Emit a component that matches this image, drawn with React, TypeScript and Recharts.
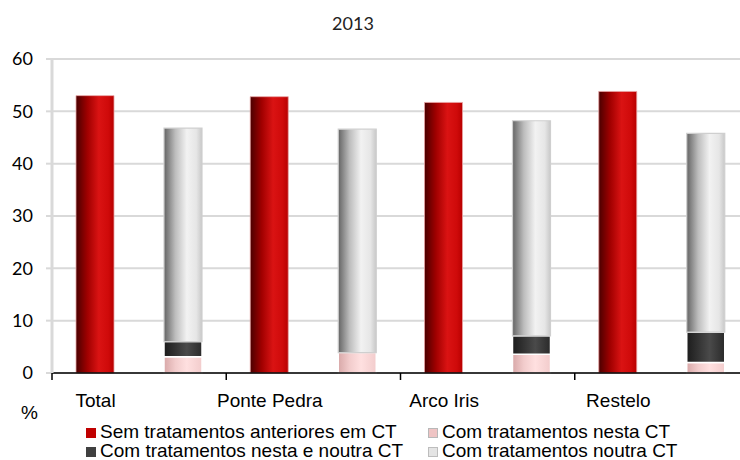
import { Bar, BarChart, CartesianGrid, XAxis, YAxis } from "recharts"

const CATEGORIES = ["Total", "Ponte Pedra", "Arco Iris", "Restelo"]
const SEM_TRATAMENTOS = [53, 52.8, 51.7, 53.8]
const NESTA_CT = [3.1, 3.9, 3.6, 2.0]
const NESTA_E_NOUTRA = [2.9, 0, 3.5, 5.8]
const NOUTRA_CT = [40.8, 42.7, 41.1, 38.0]
const Y_TICKS = [0, 10, 20, 30, 40, 50, 60]

const LEGEND = [
  { label: "Sem tratamentos anteriores em CT", color: "#c00000", border: "#c00000" },
  { label: "Com tratamentos nesta CT", color: "#efc4c4", border: "#b8b8b8" },
  { label: "Com tratamentos nesta e noutra CT", color: "#404040", border: "#404040" },
  { label: "Com tratamentos noutra CT", color: "#e4e4e4", border: "#bdbdbd" },
]

const data = CATEGORIES.map((name, i) => ({
  name,
  sem: SEM_TRATAMENTOS[i],
  nesta: NESTA_CT[i],
  ambas: NESTA_E_NOUTRA[i],
  noutra: NOUTRA_CT[i],
}))

const CHART_W = 760
const CHART_H = 460
const MARGIN = { top: 59, right: 11, bottom: 47, left: 0 }
const Y_AXIS_W = 52
const BAND = (CHART_W - MARGIN.left - MARGIN.right - Y_AXIS_W) / CATEGORIES.length

const TEXT_FONT = "'Liberation Sans', Arial, sans-serif"
const NUM_FONT = "Lato, 'Liberation Sans', sans-serif"

function CategoryTick({ x, y, payload }: any) {
  const left = x - BAND / 2
  return (
    <g>
      <line x1={left} x2={left} y1={y} y2={y + 7} stroke="#000" strokeWidth={1.5} />
      <text
        x={x - BAND / 4}
        y={y + 34}
        textAnchor="middle"
        fill="#000"
        fontSize={19}
        fontFamily={TEXT_FONT}
      >
        {payload.value}
      </text>
    </g>
  )
}

export default function App() {
  return (
    <div
      style={{
        position: "absolute",
        left: 0,
        top: 0,
        width: 740,
        height: 460,
        overflow: "hidden",
        background: "#fff",
      }}
    >
      <div
        style={{
          position: "absolute",
          left: 0,
          width: 706,
          top: 13,
          textAlign: "center",
          fontFamily: NUM_FONT,
          fontSize: 18,
          color: "#222",
          lineHeight: "20px",
        }}
      >
        2013
      </div>
      <BarChart
        width={CHART_W}
        height={CHART_H}
        data={data}
        margin={MARGIN}
        barSize={38}
        barGap={50}
      >
        <defs>
          <linearGradient id="gRed" x1="0" y1="0" x2="1" y2="0">
            <stop offset="0%" stopColor="#4a0000" />
            <stop offset="30%" stopColor="#a00000" />
            <stop offset="60%" stopColor="#da1313" />
            <stop offset="85%" stopColor="#cf0a0a" />
            <stop offset="100%" stopColor="#b80000" />
          </linearGradient>
          <linearGradient id="gGrey" x1="0" y1="0" x2="1" y2="0">
            <stop offset="0%" stopColor="#646464" />
            <stop offset="30%" stopColor="#bdbdbd" />
            <stop offset="60%" stopColor="#f2f2f2" />
            <stop offset="85%" stopColor="#e6e6e6" />
            <stop offset="100%" stopColor="#c8c8c8" />
          </linearGradient>
          <linearGradient id="gDark" x1="0" y1="0" x2="1" y2="0">
            <stop offset="0%" stopColor="#1c1c1c" />
            <stop offset="60%" stopColor="#4a4a4a" />
            <stop offset="100%" stopColor="#2a2a2a" />
          </linearGradient>
          <linearGradient id="gPink" x1="0" y1="0" x2="1" y2="0">
            <stop offset="0%" stopColor="#d8a8a8" />
            <stop offset="30%" stopColor="#f2cccc" />
            <stop offset="60%" stopColor="#ffe0e0" />
            <stop offset="100%" stopColor="#f2cccc" />
          </linearGradient>
        </defs>
        <CartesianGrid vertical={false} stroke="#d9d9d9" strokeWidth={2} />
        <XAxis
          dataKey="name"
          interval={0}
          height={40}
          tickLine={false}
          tickSize={0}
          tickMargin={0}
          axisLine={{ stroke: "#000", strokeWidth: 1.5 }}
          tick={<CategoryTick />}
        />
        <YAxis
          width={Y_AXIS_W}
          domain={[0, 60]}
          ticks={Y_TICKS}
          interval={0}
          tickSize={6}
          tickMargin={13}
          axisLine={{ stroke: "#d9d9d9", strokeWidth: 3 }}
          tickLine={{ stroke: "#d9d9d9", strokeWidth: 2 }}
          tick={{ fill: "#000", fontSize: 18, fontFamily: NUM_FONT }}
        />
        <Bar
          dataKey="sem"
          stackId="sem"
          fill="url(#gRed)"
          stroke="#e9a3a3"
          strokeWidth={0.8}
          isAnimationActive={false}
        />
        <Bar
          dataKey="nesta"
          stackId="com"
          fill="url(#gPink)"
          stroke="#ffffff"
          strokeWidth={1.5}
          isAnimationActive={false}
        />
        <Bar
          dataKey="ambas"
          stackId="com"
          fill="url(#gDark)"
          stroke="#ffffff"
          strokeWidth={1.5}
          isAnimationActive={false}
        />
        <Bar
          dataKey="noutra"
          stackId="com"
          fill="url(#gGrey)"
          stroke="#cfcfcf"
          strokeWidth={1.2}
          isAnimationActive={false}
        />
      </BarChart>
      <div
        style={{
          position: "absolute",
          left: 21,
          top: 403,
          fontFamily: TEXT_FONT,
          fontSize: 19,
          lineHeight: "20px",
          color: "#000",
        }}
      >
        %
      </div>
      {LEGEND.map((item, i) => {
        const col = i % 2
        const row = Math.floor(i / 2)
        const left = col === 0 ? 86 : 428
        const top = 422 + row * 19
        return (
          <div
            key={item.label}
            style={{
              position: "absolute",
              left,
              top,
              display: "flex",
              alignItems: "center",
              fontFamily: TEXT_FONT,
              fontSize: 19,
              lineHeight: "19px",
              color: "#000",
              whiteSpace: "nowrap",
            }}
          >
            <span
              style={{
                display: "inline-block",
                width: 8,
                height: 8,
                background: item.color,
                border: `1px solid ${item.border}`,
                marginRight: 4,
                marginTop: 2,
              }}
            />
            <span>{item.label}</span>
          </div>
        )
      })}
    </div>
  )
}
